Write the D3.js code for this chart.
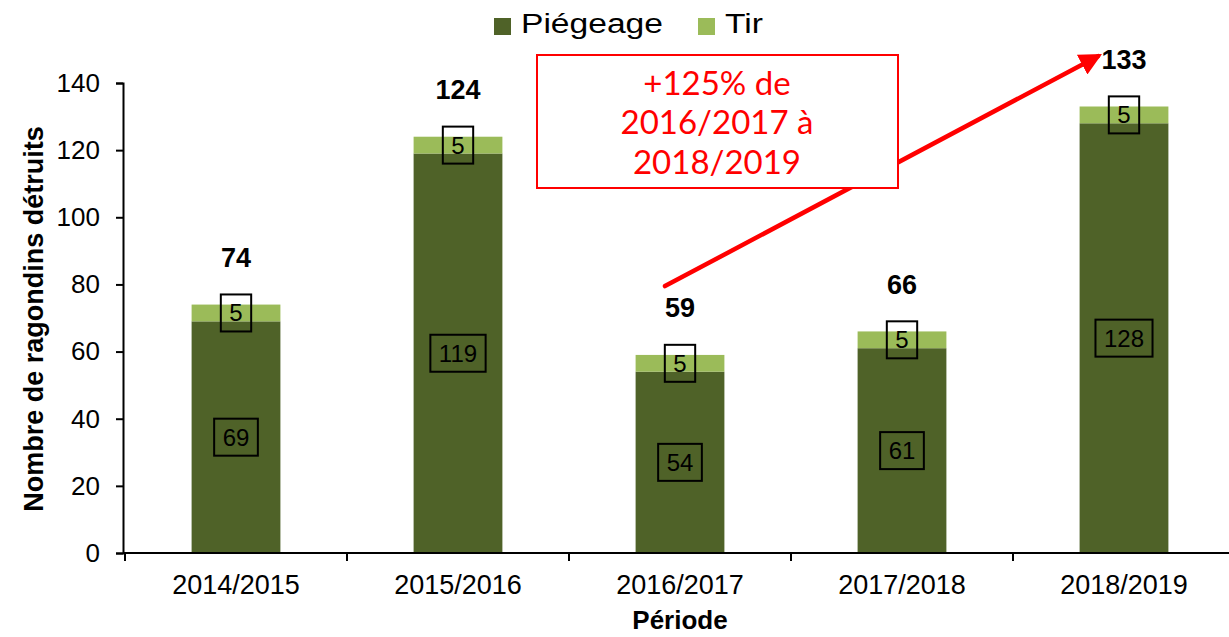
<!DOCTYPE html>
<html>
<head>
<meta charset="utf-8">
<script src="https://cdn.jsdelivr.net/npm/d3@7"></script>
<style>
  body { margin: 0; background: #fff; }
  text { font-family: "Liberation Sans", Arial, sans-serif; }
</style>
</head>
<body>
<div id="chart"></div>
<script>
// data
var periods = ["2014/2015", "2015/2016", "2016/2017", "2017/2018", "2018/2019"];
var piegeage = [69, 119, 54, 61, 128];
var tir = [5, 5, 5, 5, 5];
var yTicks = [0, 20, 40, 60, 80, 100, 120, 140];
var seriesNames = ["Piégeage", "Tir"];
var colors = ["#4f6228", "#9bbb59"];

var svgWidth = 1229;
var svgHeight = 637;

var margin = { top: 83, right: 0, bottom: 84, left: 123 };
var height = svgHeight - margin.top - margin.bottom;

var svg = d3.select("#chart")
    .append("svg")
    .attr("width", svgWidth)
    .attr("height", svgHeight);

var chartGroup = svg.append("g")
    .attr("transform", `translate(${margin.left}, ${margin.top})`);

// scales
var xScale = d3.scaleBand()
    .domain(periods)
    .range([2, 1112])
    .paddingInner(0.6)
    .paddingOuter(0.3);

var yScale = d3.scaleLinear()
    .domain([0, 140])
    .range([height, 0]);

// stacked rows
var rows = periods.map(function (p, i) {
    return { period: p, "Piégeage": piegeage[i], "Tir": tir[i] };
});
var stacked = d3.stack().keys(seriesNames)(rows);

chartGroup.selectAll("g.layer")
    .data(stacked)
    .enter()
    .append("g")
    .attr("class", "layer")
    .attr("fill", (d, i) => colors[i])
    .selectAll("rect")
    .data(d => d)
    .enter()
    .append("rect")
    .attr("x", d => xScale(d.data.period))
    .attr("y", d => yScale(d[1]))
    .attr("width", xScale.bandwidth())
    .attr("height", d => yScale(d[0]) - yScale(d[1]));

// y axis
var leftAxis = d3.axisLeft(yScale).tickValues(yTicks).tickSize(7).tickPadding(16);
var yAxisG = chartGroup.append("g").call(leftAxis);
yAxisG.selectAll("text").style("font-size", "26px").attr("fill", "#000");

// x axis: labels only, ticks between categories
var bottomAxis = d3.axisBottom(xScale).tickSize(0).tickPadding(22);
var xAxisG = chartGroup.append("g")
    .attr("transform", `translate(0, ${height})`)
    .call(bottomAxis);
xAxisG.selectAll("text").style("font-size", "27px").attr("fill", "#000");
xAxisG.select(".domain").attr("d", `M0,0H${svgWidth - margin.left}`);

var gap = (xScale.step() - xScale.bandwidth()) / 2;
xAxisG.selectAll("line.sep")
    .data(periods)
    .enter()
    .append("line")
    .attr("class", "sep")
    .attr("x1", d => xScale(d) - gap)
    .attr("x2", d => xScale(d) - gap)
    .attr("y1", 0)
    .attr("y2", 8)
    .attr("stroke", "#000")
    .attr("stroke-width", 2);

svg.selectAll(".domain, .tick line").attr("stroke", "#000").attr("stroke-width", 2);

// boxed segment labels
function boxLabel(cx, cy, txt) {
    var g = chartGroup.append("g");
    var t = g.append("text")
        .attr("x", cx)
        .attr("y", cy)
        .attr("dy", "0.35em")
        .attr("text-anchor", "middle")
        .style("font-size", "24px")
        .attr("fill", "#000")
        .text(txt);
    var w = t.node().getComputedTextLength() + 17;
    g.insert("rect", "text")
        .attr("x", cx - w / 2)
        .attr("y", cy - 18.5)
        .attr("width", w)
        .attr("height", 37)
        .attr("fill", "none")
        .attr("stroke", "#000")
        .attr("stroke-width", 2);
}

stacked.forEach(function (layer) {
    layer.forEach(function (d, i) {
        var cx = xScale(d.data.period) + xScale.bandwidth() / 2;
        var cy = yScale((d[0] + d[1]) / 2);
        boxLabel(cx, cy, layer.key === "Tir" ? tir[i] : piegeage[i]);
    });
});

// totals
chartGroup.selectAll("text.total")
    .data(rows)
    .enter()
    .append("text")
    .attr("class", "total")
    .attr("x", d => xScale(d.period) + xScale.bandwidth() / 2)
    .attr("y", d => yScale(d["Piégeage"] + d["Tir"]) - 47)
    .attr("dy", "0.35em")
    .attr("text-anchor", "middle")
    .style("font-size", "27px")
    .style("font-weight", "bold")
    .attr("fill", "#000")
    .text(d => d["Piégeage"] + d["Tir"]);

// arrow
svg.append("defs").append("marker")
    .attr("id", "arrowhead")
    .attr("viewBox", "0 0 10 10")
    .attr("refX", 8)
    .attr("refY", 5)
    .attr("markerWidth", 5)
    .attr("markerHeight", 5)
    .attr("orient", "auto")
    .append("path")
    .attr("d", "M0,0L10,5L0,10z")
    .attr("fill", "#ff0000");

var x0 = xScale("2016/2017") + xScale.bandwidth() / 2 - 15;
var x1 = xScale("2018/2019") + xScale.bandwidth() / 2 - 26;
chartGroup.append("line")
    .attr("x1", x0)
    .attr("y1", yScale(79.5))
    .attr("x2", x1)
    .attr("y2", yScale(148))
    .attr("stroke", "#ff0000")
    .attr("stroke-width", 4.5)
    .attr("stroke-linecap", "round")
    .attr("marker-end", "url(#arrowhead)");

// annotation box
var note = svg.append("g");
note.append("rect")
    .attr("x", 537)
    .attr("y", 55)
    .attr("width", 361)
    .attr("height", 133)
    .attr("fill", "#fff")
    .attr("stroke", "#ff0000")
    .attr("stroke-width", 2);
var noteLines = ["+125% de", "2016/2017 à", "2018/2019"];
note.selectAll("text")
    .data(noteLines)
    .enter()
    .append("text")
    .attr("x", 717)
    .attr("y", (d, i) => 83 + i * 39.5)
    .attr("dy", "0.35em")
    .attr("text-anchor", "middle")
    .style("font-family", "Lato, sans-serif")
    .style("font-size", "33px")
    .attr("fill", "#ff0000")
    .text(d => d);

// legend (text looks horizontally stretched in the original)
var legendItems = [
    { name: "Piégeage", x: 494 },
    { name: "Tir", x: 698 }
];
var legend = svg.selectAll("g.legend")
    .data(legendItems)
    .enter()
    .append("g")
    .attr("class", "legend");
legend.append("rect")
    .attr("x", d => d.x)
    .attr("y", 18)
    .attr("width", 17)
    .attr("height", 17)
    .attr("fill", (d, i) => colors[i]);
legend.append("text")
    .attr("transform", d => `translate(${d.x + 27}, 23) scale(1.2, 1)`)
    .attr("dy", "0.35em")
    .style("font-size", "28px")
    .attr("fill", "#000")
    .text(d => d.name);

// axis titles
svg.append("text")
    .attr("transform", "rotate(-90)")
    .attr("x", -319)
    .attr("y", 34)
    .attr("dy", "0.35em")
    .attr("text-anchor", "middle")
    .style("font-size", "27px")
    .style("font-weight", "bold")
    .text("Nombre de ragondins détruits");

svg.append("text")
    .attr("x", 680)
    .attr("y", 620)
    .attr("dy", "0.35em")
    .attr("text-anchor", "middle")
    .style("font-size", "26px")
    .style("font-weight", "bold")
    .text("Période");
</script>
</body>
</html>
